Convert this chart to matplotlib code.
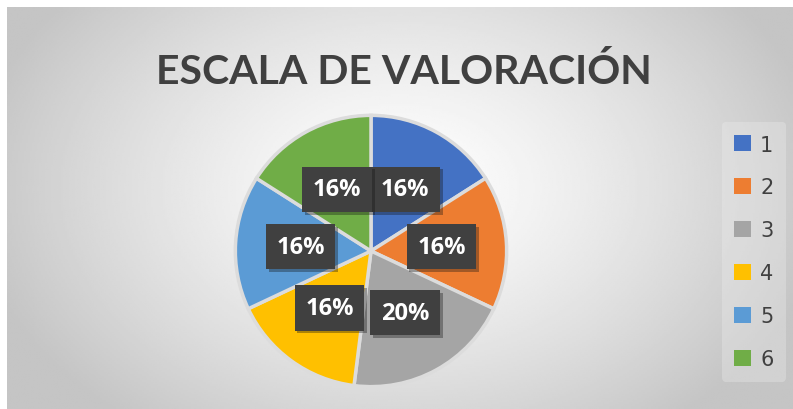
import numpy as np
import matplotlib.pyplot as plt
import matplotlib.patheffects as pe

# Data
categories = ['1', '2', '3', '4', '5', '6']
values = [4, 4, 5, 4, 4, 4]
colors = ['#4472C4', '#ED7D31', '#A5A5A5', '#FFC000', '#5B9BD5', '#70AD47']
title = 'ESCALA DE VALORACIÓN'

W, H = 793, 410
fig = plt.figure(figsize=(W / 100, H / 100), dpi=100)
fig.patch.set_facecolor('white')

# Chart area background with radial gradient (Excel style)
x0, y0 = 7 / W, 0
bg = fig.add_axes([x0, y0, 1 - x0, 1 - 8 / H - y0])
xx, yy = np.meshgrid(np.linspace(0, 1, 400), np.linspace(0, 1, 200))
d = np.sqrt(((xx - 0.5) / 0.55) ** 2 + ((yy - 0.45) / 0.75) ** 2)
d = np.clip(d, 0, 1)
shade = 1 - 0.23 * d ** 1.3
bg.imshow(shade, cmap='gray', vmin=0, vmax=1, aspect='auto', extent=[0, 1, 0, 1], origin='upper')
bg.axis('off')

# Title
fig.text(404 / W, 1 - 72 / H, title, ha='center', va='center', fontsize=29.5,
         fontweight='bold', family='Lato', color='#404040')

# Pie
cx, cy, r = 371, 252, 137
ax = fig.add_axes([(cx - r) / W, 1 - (cy + r) / H, 2 * r / W, 2 * r / H])
wedges, texts, autotexts = ax.pie(
    values, colors=colors, startangle=90, counterclock=False,
    autopct='%1.0f%%', pctdistance=0.52,
    wedgeprops=dict(edgecolor='#dcdcdc', linewidth=2.5),
    textprops=dict(color='white', fontsize=17, fontweight='bold', family='Open Sans'),
)
for t in autotexts:
    t.set_bbox(dict(boxstyle='square,pad=0.45', facecolor='#404040', edgecolor='none'))
    t.get_bbox_patch().set_path_effects([pe.SimplePatchShadow(offset=(2, -2), alpha=0.35), pe.Normal()])
ax.set_aspect('equal')
ax.set_xlim(-1.01, 1.01)
ax.set_ylim(-1.01, 1.01)

# Legend
leg = fig.legend(wedges, categories, loc='upper right', bbox_to_anchor=(786 / W, 1 - 123 / H),
                 borderaxespad=0, frameon=True, fontsize=15, handlelength=0.8, handleheight=0.8,
                 labelspacing=1.1, handletextpad=0.45, borderpad=0.6)
leg.get_frame().set_facecolor('#ececec')
leg.get_frame().set_edgecolor('none')
leg.get_frame().set_alpha(0.35)
for t in leg.get_texts():
    t.set_color('#404040')
for h in leg.legend_handles:
    h.set_edgecolor('none')

fig.savefig('out.png', dpi=100)
